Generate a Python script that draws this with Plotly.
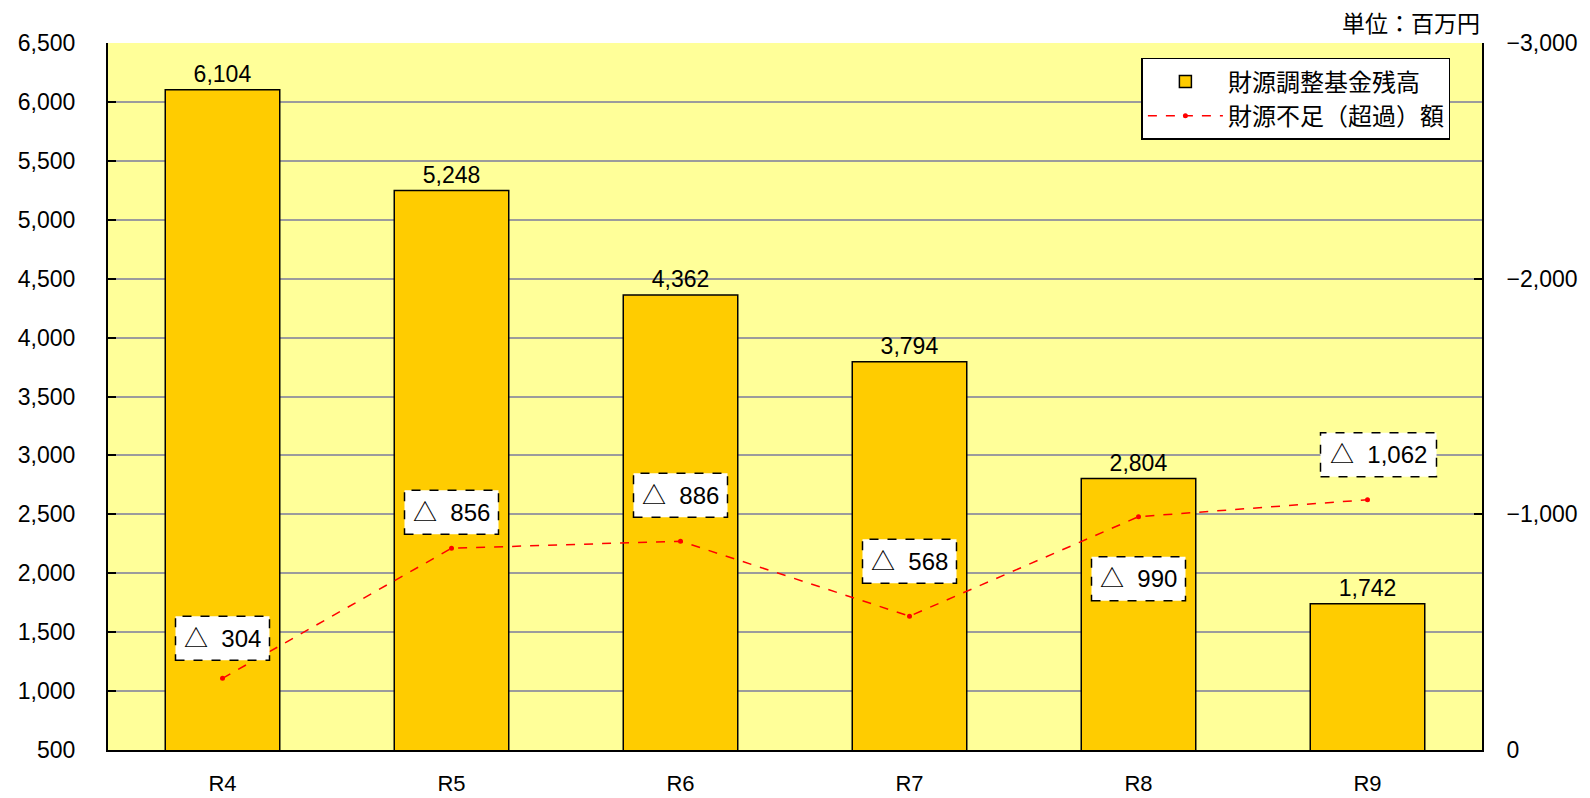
import plotly.graph_objects as go

categories = ["R4", "R5", "R6", "R7", "R8", "R9"]
fund_balance = [6104, 5248, 4362, 3794, 2804, 1742]
shortfall = [-304, -856, -886, -568, -990, -1062]
shortfall_labels = ["△  304", "△  856", "△  886", "△  568", "△  990", "△  1,062"]
left_ticks = list(range(500, 7000, 500))
right_ticks = [0, -1000, -2000, -3000]

# label box style offsets (pixels relative to the point)
label_yshift = [40, 36, 46, 55, -62, 45]
label_xshift = [0, 0, 0, 0, 0, 11]
label_halfw = [47, 47, 47, 47, 47, 58]
label_halfh = 22

JP = "Noto Sans CJK JP"
NUM = "Liberation Sans, Noto Sans CJK JP"
xs = list(range(len(categories)))

fig = go.Figure()
fig.add_trace(go.Bar(
    x=xs, y=fund_balance, name="財源調整基金残高",
    marker=dict(color="#FFCC00", line=dict(color="black", width=1.5)),
    width=0.5,
    text=[f"{v:,}" for v in fund_balance], textposition="outside",
    textfont=dict(size=23, color="black", family=NUM),
    cliponaxis=False,
))
fig.add_trace(go.Scatter(
    x=xs, y=shortfall, name="財源不足（超過）額", yaxis="y2",
    mode="lines+markers",
    line=dict(color="#FF0000", width=1.5, dash="dash"),
    marker=dict(color="#FF0000", size=5),
))

for i, (v, t) in enumerate(zip(shortfall, shortfall_labels)):
    cy = label_yshift[i]
    cx = label_xshift[i]
    fig.add_shape(
        type="rect", xref="x", yref="y2",
        xsizemode="pixel", ysizemode="pixel",
        xanchor=xs[i], yanchor=v,
        x0=cx - label_halfw[i], x1=cx + label_halfw[i],
        y0=cy - label_halfh, y1=cy + label_halfh,
        fillcolor="white", line=dict(color="black", width=1.5, dash="dash"),
        layer="above",
    )
    fig.add_annotation(
        x=xs[i], y=v, xref="x", yref="y2", text=t, showarrow=False,
        xshift=cx, yshift=cy,
        font=dict(size=24, color="black", family=NUM),
    )

fig.add_annotation(
    x=1, y=1, xref="paper", yref="paper", xanchor="right", yanchor="bottom",
    yshift=2, text="単位：百万円", showarrow=False,
    font=dict(size=23, color="black", family=JP),
)

fig.update_layout(
    width=1590, height=798,
    margin=dict(l=108, r=108, t=43, b=48, autoexpand=False),
    paper_bgcolor="white", plot_bgcolor="#FFFF99",
    font=dict(family=NUM, size=22, color="black"),
    showlegend=True,
    legend=dict(
        x=0.977, y=0.979, xanchor="right", yanchor="top",
        bgcolor="white", bordercolor="black", borderwidth=1.5,
        font=dict(size=24, family=JP), itemwidth=75,
        tracegroupgap=0,
    ),
    xaxis=dict(
        range=[-0.5, 5.5], tickmode="array", tickvals=xs, ticktext=categories,
        showgrid=False, showline=True, linecolor="black", linewidth=2,
        ticks="", ticklabelstandoff=13, zeroline=False, automargin=False,
        tickfont=dict(size=22, family=NUM),
    ),
    yaxis=dict(
        range=[500, 6500], tickmode="array", tickvals=left_ticks,
        tickformat=",", showgrid=True, gridcolor="#9C9C9C", gridwidth=2,
        showline=True, linecolor="black", linewidth=2,
        ticks="inside", ticklen=8, tickwidth=2, tickcolor="black",
        ticklabelstandoff=26, zeroline=False, automargin=False,
        tickfont=dict(size=23, family=NUM),
    ),
    yaxis2=dict(
        overlaying="y", side="right", range=[0, -3000],
        tickmode="array", tickvals=right_ticks, tickformat=",",
        showgrid=False, showline=True, linecolor="black", linewidth=2,
        ticks="inside", ticklen=8, tickwidth=2, tickcolor="black",
        ticklabelstandoff=18, zeroline=False, automargin=False,
        tickfont=dict(size=23, family=NUM),
    ),
)

fig.write_html("out.html")
